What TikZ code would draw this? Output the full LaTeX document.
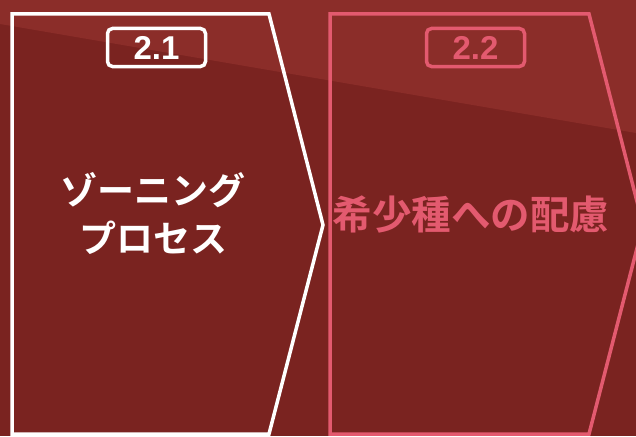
\documentclass[tikz,border=0pt]{standalone}
\usepackage{fontspec}
\setmainfont{Liberation Sans}
\newfontfamily\cjk{Noto Sans CJK JP}[BoldFont={Noto Sans CJK JP Bold}]
\definecolor{bgdark}{HTML}{7A2320}
\definecolor{bglight}{HTML}{8B2D29}
\definecolor{pinkc}{HTML}{E35A6F}
\tikzset{
  chev/.style={line width=3.5pt, line join=miter},
  numbox/.style={draw, line width=3.5pt, rounded corners=5pt, minimum width=98pt, minimum height=38pt, inner sep=0pt, font=\bfseries\fontsize{33}{33}\selectfont},
  title/.style={align=center, inner sep=0pt, font=\cjk\bfseries\fontsize{37}{48}\selectfont}
}
\begin{document}
\begin{tikzpicture}[x=1pt,y=-1pt]
\fill[bgdark] (0,0) rectangle (636,436);
\fill[bglight] (0,0) -- (636,0) -- (636,133) -- (0,24) -- cycle;
\useasboundingbox (0,0) rectangle (636,436);
% chevrons
\draw[chev, white] (12,14) -- (269,14) -- (323,225) -- (269,434) -- (12,434) -- cycle;
\draw[chev, pinkc] (330,14) -- (589,14) -- (643,225) -- (589,434) -- (330,434) -- cycle;
% number boxes
\node[numbox, white] (n1) at (156.5,47.5) {2.1};
\node[numbox, pinkc] (n2) at (475.5,47.5) {2.2};
% titles
\node[title, text=white] (t1) at (153,213) {ゾーニング\\プロセス};
\node[title, text=pinkc, font=\cjk\bfseries\fontsize{39.5}{48}\selectfont] (t2) at (471,214) {希少種への配慮};
\end{tikzpicture}
\end{document}
